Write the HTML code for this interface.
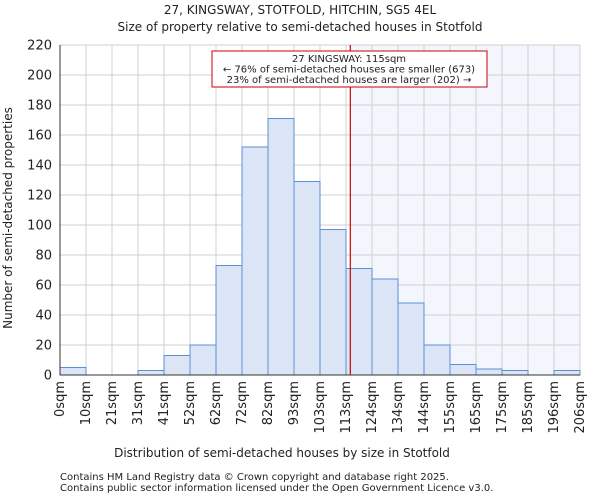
<!DOCTYPE html>
<html><head><meta charset="utf-8"><style>
body{margin:0;background:#fff;font-family:"DejaVu Sans","Liberation Sans",sans-serif;}
svg text{font-family:"DejaVu Sans","Liberation Sans",sans-serif;fill:#222;}
</style></head><body>
<svg id="c" width="600" height="500">
<text x="300" y="14" font-size="12" text-anchor="middle">27, KINGSWAY, STOTFOLD, HITCHIN, SG5 4EL</text>
<text x="300" y="31" font-size="12" text-anchor="middle">Size of property relative to semi-detached houses in Stotfold</text>
<text x="282" y="457" font-size="12" text-anchor="middle">Distribution of semi-detached houses by size in Stotfold</text>
<text transform="translate(12,218) rotate(-90)" font-size="12" text-anchor="middle">Number of semi-detached properties</text>
<text x="60" y="480" font-size="10">Contains HM Land Registry data © Crown copyright and database right 2025.</text>
<text x="60" y="491" font-size="10">Contains public sector information licensed under the Open Government Licence v3.0.</text>
<g id="g"></g>
</svg>
<script>
const categories=["0sqm","10sqm","21sqm","31sqm","41sqm","52sqm","62sqm","72sqm","82sqm","93sqm","103sqm","113sqm","124sqm","134sqm","144sqm","155sqm","165sqm","175sqm","185sqm","196sqm","206sqm"];
const counts=[5,0,0,3,13,20,73,152,171,129,97,71,64,48,20,7,4,3,0,3];
const yTicks=[0,20,40,60,80,100,120,140,160,180,200,220];
const propertySize=115;
const binWidthSqm=10.3;
const L=60,R=580,T=45,B=375,yMax=220;
const n=counts.length,bw=(R-L)/n;
const x=i=>L+i*bw;
const y=v=>B-(v/yMax)*(B-T);
const xs=s=>L+(s/binWidthSqm)*bw;
const g=document.getElementById('g');
const NS='http://www.w3.org/2000/svg';
function mk(t,a){const e=document.createElementNS(NS,t);for(const k in a)e.setAttribute(k,a[k]);g.appendChild(e);return e;}
const px=xs(propertySize);
let e=mk('rect',{x:px,y:T,width:R-px,height:B-T,fill:'#f3f6fd'});


yTicks.forEach(v=>{
 let l=mk('line',{x1:L,x2:R,y1:y(v),y2:y(v),stroke:'#d0d0d0'});
 
 
 let t=mk('text',{x:L-8,y:y(v)+4.5,'font-size':13,'text-anchor':'end'});t.textContent=v;
 
 
});
categories.forEach((c,i)=>{
 let l=mk('line',{x1:x(i),x2:x(i),y1:T,y2:B,stroke:'#d0d0d0'});
 
 
 let t=mk('text',{transform:`translate(${x(i)+4},${B+6}) rotate(-90)`,'font-size':13,'text-anchor':'end'});t.textContent=c;
 
 
});
counts.forEach((v,i)=>{
 if(v<=0)return;
 let r=mk('rect',{x:x(i),y:y(v),width:bw,height:B-y(v),fill:'#dce5f5',stroke:'#5b8fd6','stroke-width':1});
 
 
});
e=mk('line',{x1:L,x2:L,y1:T,y2:B,stroke:'#333'});


e=mk('line',{x1:L,x2:R,y1:B,y2:B,stroke:'#333'});


e=mk('line',{x1:px,x2:px,y1:T,y2:B,stroke:'#cc0000','stroke-width':1.2});


e=mk('rect',{x:212,y:51,width:275,height:36,fill:'#fff',stroke:'#cc0000'});


["27 KINGSWAY: 115sqm","← 76% of semi-detached houses are smaller (673)","23% of semi-detached houses are larger (202) →"].forEach((s,i)=>{
 let t=mk('text',{x:349,y:62+i*10.5,'font-size':10,'text-anchor':'middle'});t.textContent=s;
 
 
});
</script>
</body></html>
